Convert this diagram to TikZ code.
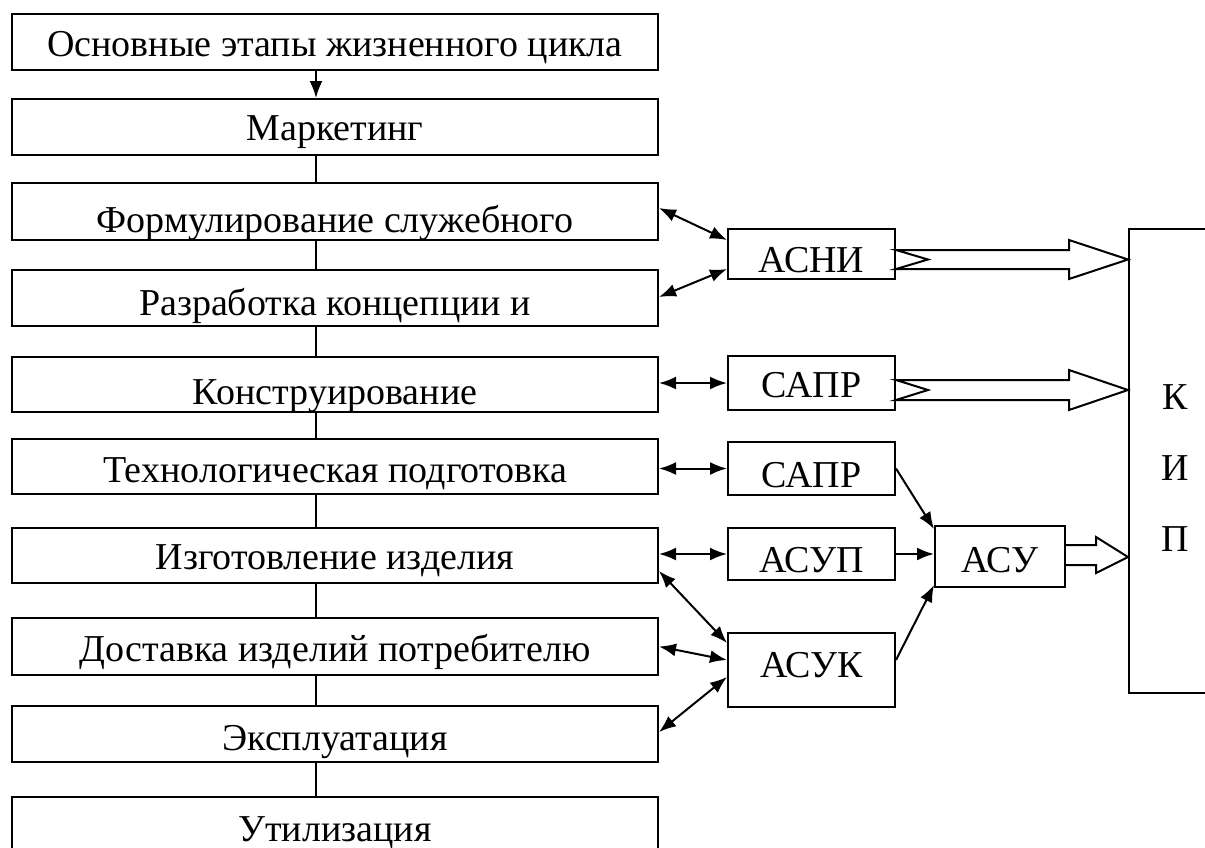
\documentclass[tikz,border=0pt]{standalone}
\usepackage{fontspec}
\setmainfont{Liberation Serif}
\usetikzlibrary{arrows.meta,calc}

\begin{document}
\begin{tikzpicture}[x=1pt,y=-1pt,>={Latex[length=17pt,width=13pt]},line width=2pt,
    stage/.style={draw,inner sep=0pt,minimum width=646pt,font=\fontsize{38}{42}\selectfont},
    sys/.style={draw,fill=white,inner sep=0pt,minimum width=167pt,font=\fontsize{38}{42}\selectfont},
    hollow/.style={draw,fill=white,line join=miter}]
    \useasboundingbox (0,0) rectangle (1205,847);
    \clip (0,0) rectangle (1205,847);
    % этапы жизненного цикла
    \node[stage,text height=42pt,text depth=14pt] (s1) at (335,42) {Основные этапы жизненного цикла};
    \node[stage,text height=41pt,text depth=15pt] (s2) at (335,127) {Маркетинг};
    \node[stage,text height=49pt,text depth=8pt] (s3) at (335,211.5) {Формулирование служебного};
    \node[stage,text height=45pt,text depth=11pt] (s4) at (335,298) {Разработка концепции и};
    \node[stage,text height=47pt,text depth=8pt] (s5) at (335,384.5) {Конструирование};
    \node[stage,text height=43pt,text depth=12pt] (s6) at (335,466.5) {Технологическая подготовка};
    \node[stage,text height=41pt,text depth=14pt] (s7) at (335,555.5) {Изготовление изделия};
    \node[stage,text height=43pt,text depth=14pt] (s8) at (335,646.5) {Доставка изделий потребителю};
    \node[stage,text height=44pt,text depth=12pt] (s9) at (335,734) {Эксплуатация};
    \node[stage,text height=44pt,text depth=12pt] (s10) at (335,825) {Утилизация};
    \draw[->] ($(s1.south)+(-19,0)$) -- ($(s2.north)+(-19,0)$);
    \draw ($(s2.south)+(-19,0)$) -- ($(s3.north)+(-19,0)$);
    \draw ($(s3.south)+(-19,0)$) -- ($(s4.north)+(-19,0)$);
    \draw ($(s4.south)+(-19,0)$) -- ($(s5.north)+(-19,0)$);
    \draw ($(s5.south)+(-19,0)$) -- ($(s6.north)+(-19,0)$);
    \draw ($(s6.south)+(-19,0)$) -- ($(s7.north)+(-19,0)$);
    \draw ($(s7.south)+(-19,0)$) -- ($(s8.north)+(-19,0)$);
    \draw ($(s8.south)+(-19,0)$) -- ($(s9.north)+(-19,0)$);
    \draw ($(s9.south)+(-19,0)$) -- ($(s10.north)+(-19,0)$);
    % автоматизированные системы
    \node[sys,text height=43pt,text depth=7pt] (asni) at (811.5,254) {АСНИ};
    \node[sys,text height=41pt,text depth=13pt] (sapr1) at (811.5,383) {САПР};
    \node[sys,text height=45pt,text depth=8pt] (sapr2) at (811.5,468.5) {САПР};
    \node[sys,text height=44pt,text depth=8pt] (asup) at (811.5,554) {АСУП};
    \node[sys,text height=44pt,text depth=30pt] (asuk) at (811.5,670) {АСУК};
    \node[sys,minimum width=130pt,text height=46pt,text depth=15pt] (asu) at (1000,556.5) {АСУ};
    \node[draw,inner sep=0pt,minimum width=92pt,minimum height=464pt,align=center,
        font=\fontsize{38}{71}\selectfont] (kip) at (1175,461) {\rule{0pt}{38pt}К\\И\\П};
    \draw[<->] ($(s3.east)+(0,-3.5)$) -- ($(asni.west)+(0,-14)$);
    \draw[<->] ($(s4.east)+(0,-1)$) -- ($(asni.west)+(0,15)$);
    \draw[<->] (s5.east |- sapr1.west) -- (sapr1.west);
    \draw[<->] (s6.east |- sapr2.west) -- (sapr2.west);
    \draw[<->] (s7.east |- asup.west) -- (asup.west);
    \draw[<->] ($(s7.east)+(0,15.5)$) -- ($(asuk.west)+(0,-27)$);
    \draw[<->] (s8.east) -- ($(asuk.west)+(0,-10)$);
    \draw[<->] ($(s9.east)+(0,-2)$) -- ($(asuk.west)+(0,7)$);
    \draw[->] (sapr2.east) -- ($(asu.north west)+(0,4)$);
    \draw[->] (asup.east) -- (asup.east -| asu.west);
    \draw[->] ($(asuk.east)+(0,-10)$) -- ($(asu.south west)+(0,-3)$);
    % широкие стрелки к КИП
    \draw[hollow] ($(asni.east)+(0,-4)$) coordinate (a1) -- ++(173,0) -- ++(0,-10)
        -- ($(asni.east -| kip.west)+(0,5.5)$) -- ($(a1)+(173,29)$) -- ++(0,-10)
        -- ($(a1)+(0,19)$) -- ++(32,-9.5) -- cycle;
    \draw[hollow] ($(sapr1.east)+(0,-3)$) coordinate (a2) -- ++(173,0) -- ++(0,-10)
        -- ($(sapr1.east -| kip.west)+(0,7)$) -- ($(a2)+(173,30)$) -- ++(0,-10)
        -- ($(a2)+(0,20)$) -- ++(32,-10) -- cycle;
    \draw[hollow] ($(asu.east)+(0,-11.5)$) coordinate (a3) -- ++(30,0) -- ++(0,-8)
        -- ($(asu.east -| kip.west)+(0,0.5)$) -- ($(a3)+(30,28)$) -- ++(0,-8)
        -- ($(a3)+(0,20)$);
\end{tikzpicture}
\end{document}
